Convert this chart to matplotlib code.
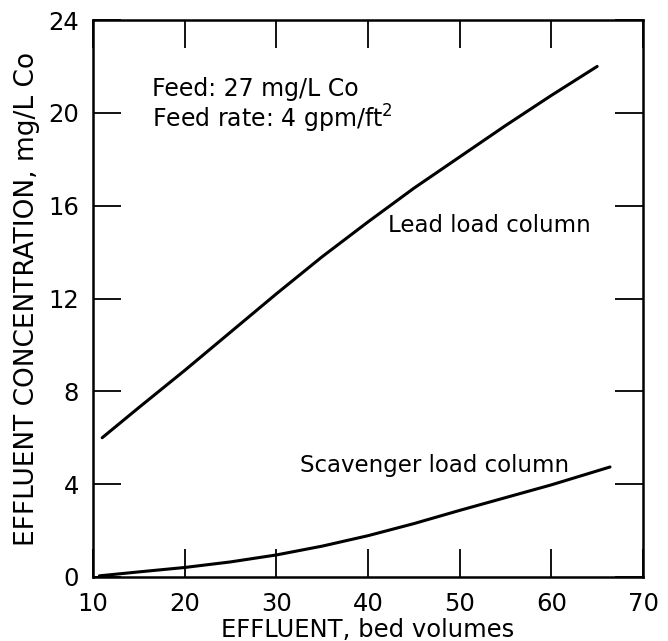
import matplotlib
matplotlib.use("Agg")
import matplotlib.pyplot as plt

# Data
lead_x = [11.0, 15, 20, 25, 30, 35, 40, 45, 50, 55, 60, 65]
lead_y = [6.0, 7.3, 8.9, 10.55, 12.2, 13.8, 15.3, 16.75, 18.1, 19.45, 20.75, 22.0]
scav_x = [10.7, 15, 20, 25, 30, 35, 40, 45, 50, 55, 60, 66.4]
scav_y = [0.05, 0.22, 0.41, 0.65, 0.95, 1.33, 1.78, 2.3, 2.87, 3.42, 3.97, 4.74]

xticks = [10, 20, 30, 40, 50, 60, 70]
yticks = [0, 4, 8, 12, 16, 20, 24]

plt.rcParams['font.family'] = ['DejaVu Sans']

fig = plt.figure(figsize=(6.68, 6.41), dpi=100)
ax = fig.add_axes([93/668, 1 - 577/641, (643-93)/668, (577-20)/641])

ax.plot(lead_x, lead_y, color='black', lw=2.2, solid_capstyle='round')
ax.plot(scav_x, scav_y, color='black', lw=2.2, solid_capstyle='round')

ax.set_xlim(10, 70)
ax.set_ylim(0, 24)
ax.set_xticks(xticks)
ax.set_yticks(yticks)
ax.tick_params(axis='both', direction='in', length=20, width=1.3, top=True,
               right=True, labelsize=17.5, color='black')
ax.tick_params(axis='x', pad=11)
ax.tick_params(axis='y', pad=10)
for s in ax.spines.values():
    s.set_linewidth(1.8)

ax.set_xlabel('EFFLUENT, bed volumes', fontsize=17.5, labelpad=1)
ax.set_ylabel('EFFLUENT CONCENTRATION, mg/L Co', fontsize=19, labelpad=6)

ax.text(16.4, 20.72, 'Feed: 27 mg/L Co', fontsize=17)
ax.text(16.4, 19.38, 'Feed rate: 4 gpm/ft$^2$', fontsize=17)
ax.text(42.2, 14.87, 'Lead load column', fontsize=16.5)
ax.text(32.6, 4.53, 'Scavenger load column', fontsize=16.5)

fig.savefig('out.png', dpi=100)
